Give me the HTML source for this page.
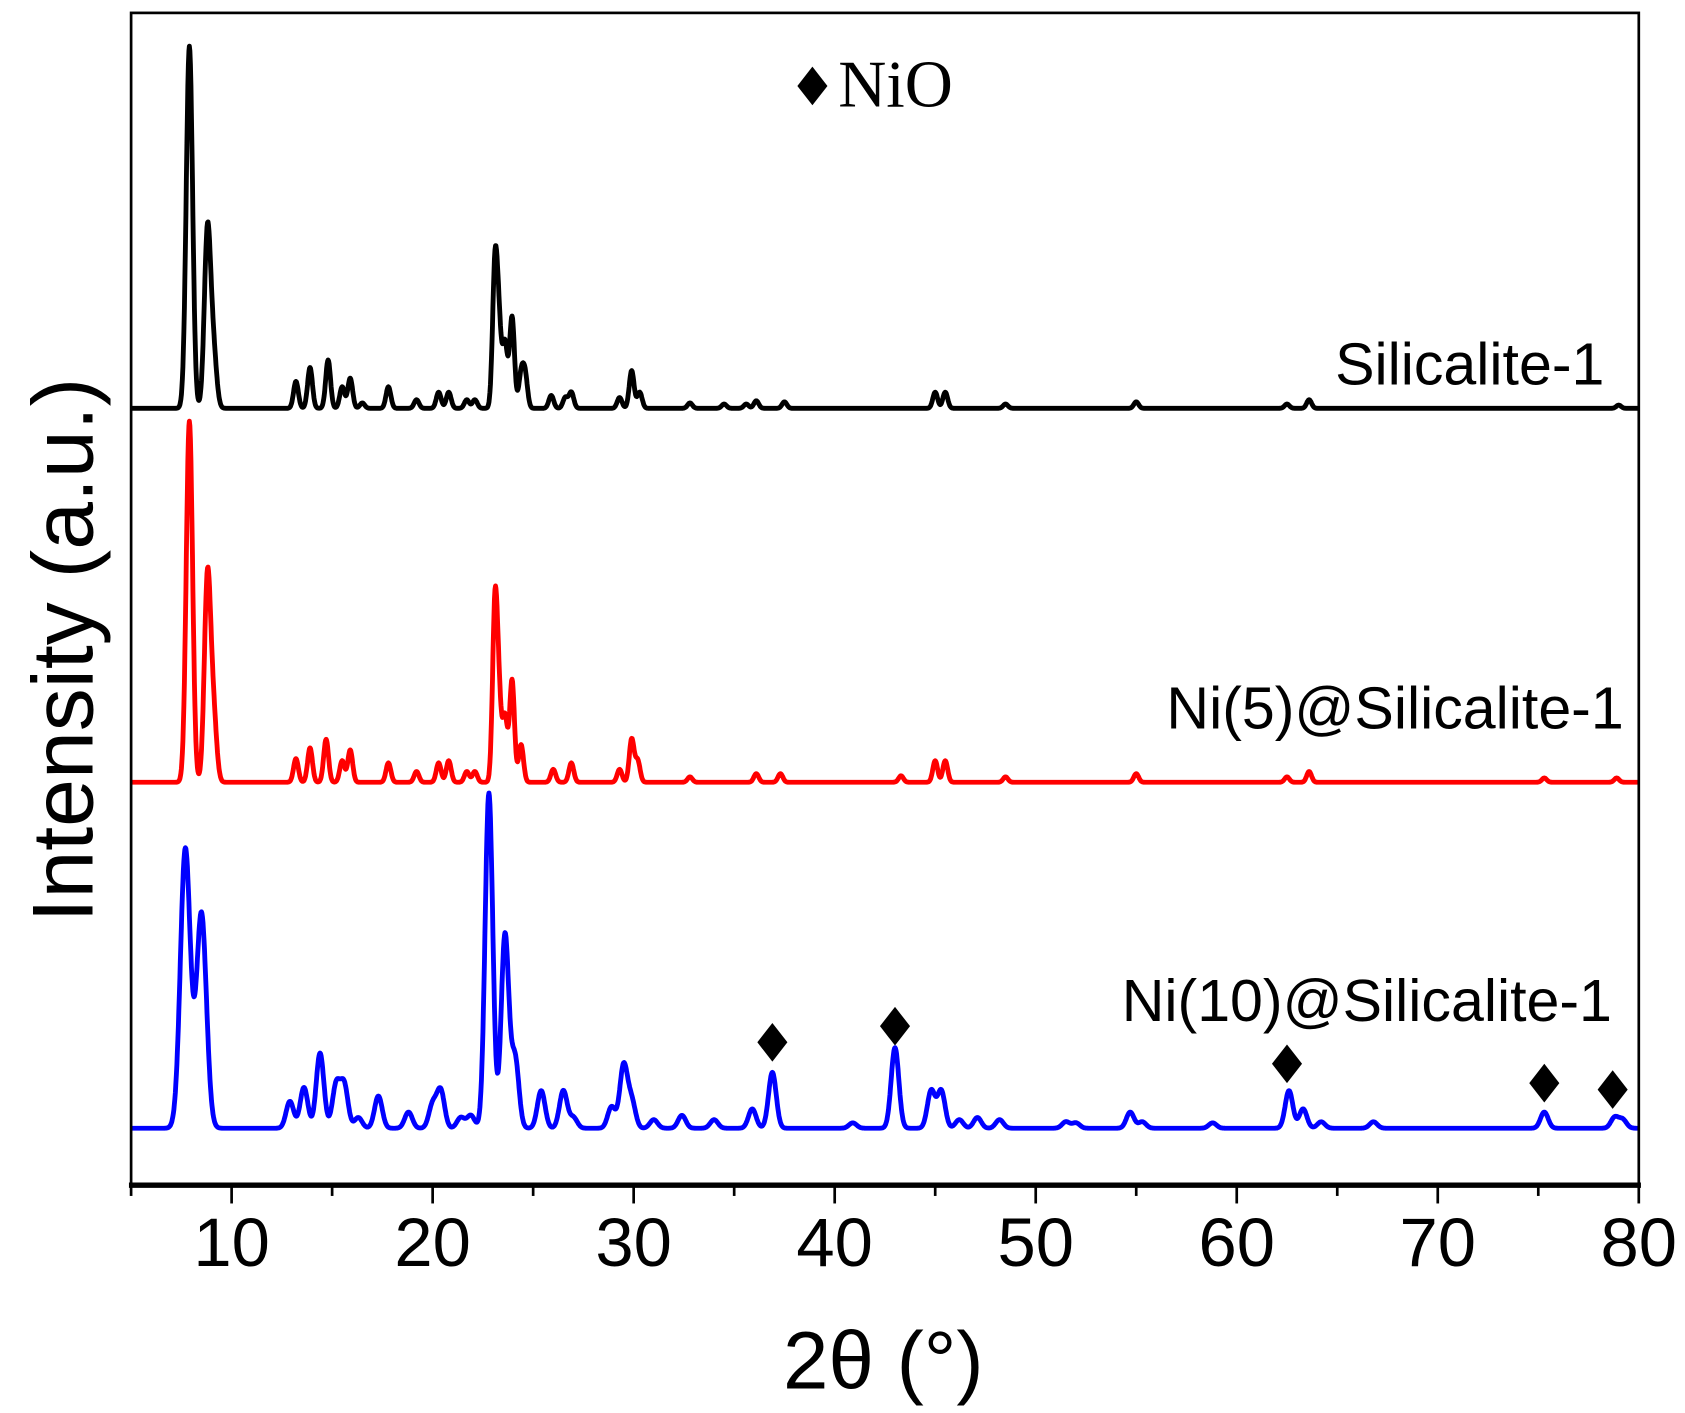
<!DOCTYPE html>
<html><head><meta charset="utf-8"><style>
html,body{margin:0;padding:0;background:#fff;}
svg{display:block;}
text{font-family:"Liberation Sans",sans-serif;}
</style></head><body>
<svg id="chart" width="1685" height="1413" viewBox="0 0 1568 1315" preserveAspectRatio="none" xmlns="http://www.w3.org/2000/svg">
<rect x="0" y="0" width="1568" height="1315" fill="#fff"/>
<g id="series"></g>
<rect x="122" y="12" width="1403" height="1091" fill="none" stroke="#000" stroke-width="2.5"/>
<line x1="120" y1="1103" x2="1527" y2="1103" stroke="#000" stroke-width="5"/>
<g id="ticks"></g>
<text x="822" y="1292" font-size="76" text-anchor="middle">2θ (°)</text>
<text transform="translate(86,605) rotate(-90)" font-size="80" text-anchor="middle">Intensity (a.u.)</text>
<text x="1493" y="358" font-size="55" text-anchor="end">Silicalite-1</text>
<text x="1511" y="678" font-size="55" text-anchor="end">Ni(5)@Silicalite-1</text>
<text x="1500" y="950" font-size="55" text-anchor="end">Ni(10)@Silicalite-1</text>
<g>
<path d="M756,62 L770,80 L756,98 L742,80 Z" fill="#000"/>
<text x="780" y="99" font-size="62" style="font-family:'Liberation Serif',serif">NiO</text>
</g>
<g id="markers"></g>
</svg>
<script>
const X0=5, X1=80, PX0=122, PX1=1525;
function xs(v){return PX0+(v-X0)*(PX1-PX0)/(X1-X0);}
const xTicks=[10,20,30,40,50,60,70,80];
const xMinor=[5,15,25,35,45,55,65,75];
// peaks: 2θ positions and intensities (display px above baseline)
const blackPos=[7.9,8.8,9.1,13.2,13.9,14.8,15.5,15.9,16.5,17.8,19.2,20.3,20.8,21.7,22.1,23.1,23.3,23.6,23.95,24.4,24.6,25.9,26.6,26.9,29.3,29.9,30.3,32.8,34.5,35.6,36.1,37.5,45.0,45.5,48.5,55.0,62.5,63.6,79.0];
const blackInt=[337,165,50,25,38,45,20,28,5,20,8,15,15,8,8,130,70,60,85,30,30,12,10,15,10,35,15,5,4,4,7,6,15,15,4,6,4,8,3];
const redPos=[7.9,8.8,9.1,13.2,13.9,14.7,15.5,15.9,17.8,19.2,20.3,20.8,21.7,22.1,23.1,23.3,23.6,23.95,24.4,26.0,26.9,29.3,29.9,30.2,32.8,36.1,37.3,43.3,45.0,45.5,48.5,55.0,62.5,63.6,75.3,78.9];
const redInt=[336,190,60,22,32,40,20,30,18,10,18,20,10,10,162,70,60,95,35,12,18,12,40,20,5,8,8,6,20,20,5,8,5,10,4,4];
const bluePos=[7.7,8.5,12.9,13.6,14.4,15.2,15.6,16.3,17.3,18.8,20.0,20.4,21.4,21.9,22.8,23.6,24.1,25.4,26.5,27.0,28.9,29.5,29.9,31.0,32.4,34.0,35.9,36.9,40.9,43.0,44.8,45.3,46.2,47.1,48.2,51.5,52.0,54.7,55.3,58.8,62.6,63.3,64.2,66.8,75.3,78.8,79.2];
const blueInt=[260,200,25,38,70,40,40,10,30,15,22,35,10,12,312,180,65,35,35,10,20,58,25,8,12,8,18,52,5,75,35,35,8,10,8,6,5,15,6,5,35,18,6,6,15,10,8];
const nioPos=[36.9,43.0,62.5,75.3,78.7];
const nioY=[970,955,990,1008,1014];
const NS="http://www.w3.org/2000/svg";
function curve(pos,inten,base,sig,color,name){
  let d="";
  for(let x=X0;x<=X1;x+=0.025){
    let y=0;
    for(let i=0;i<pos.length;i++){const s=pos[i]<10?sig*1.3:sig;const t=(x-pos[i])/s;if(Math.abs(t)<8)y+=inten[i]*Math.exp(-0.5*t*t);}
    d+=(d?"L":"M")+xs(x).toFixed(1)+","+(base-y).toFixed(1);
  }
  const p=document.createElementNS(NS,"path");
  p.setAttribute("d",d);p.setAttribute("fill","none");p.setAttribute("stroke",color);
  p.setAttribute("stroke-width","4.5");p.setAttribute("stroke-linejoin","round");
  
  
  document.getElementById("series").appendChild(p);
}
curve(blackPos,blackInt,380,0.12,"#000","series-silicalite-1");
curve(redPos,redInt,728,0.12,"#f00","series-ni5-silicalite-1");
curve(bluePos,blueInt,1050,0.19,"#00f","series-ni10-silicalite-1");
const tg=document.getElementById("ticks");
xTicks.forEach(v=>{
  const l=document.createElementNS(NS,"line");
  l.setAttribute("x1",xs(v));l.setAttribute("x2",xs(v));l.setAttribute("y1",1103);l.setAttribute("y2",1120);
  l.setAttribute("stroke","#000");l.setAttribute("stroke-width","2.5");
  
  
  tg.appendChild(l);
  const t=document.createElementNS(NS,"text");
  t.setAttribute("x",xs(v));t.setAttribute("y",1178);t.setAttribute("font-size","64");t.setAttribute("text-anchor","middle");
  t.textContent=v;
  
  
  tg.appendChild(t);
});
xMinor.forEach(v=>{
  const l=document.createElementNS(NS,"line");
  l.setAttribute("x1",xs(v));l.setAttribute("x2",xs(v));l.setAttribute("y1",1103);l.setAttribute("y2",1113);
  l.setAttribute("stroke","#000");l.setAttribute("stroke-width","2.5");
  
  
  tg.appendChild(l);
});
const mg=document.getElementById("markers");
nioPos.forEach((v,i)=>{
  const cx=xs(v),cy=nioY[i];
  const p=document.createElementNS(NS,"path");
  p.setAttribute("d",`M${cx},${cy-18}L${cx+14},${cy}L${cx},${cy+18}L${cx-14},${cy}Z`);
  p.setAttribute("fill","#000");
  
  
  mg.appendChild(p);
});
</script>
</body></html>
